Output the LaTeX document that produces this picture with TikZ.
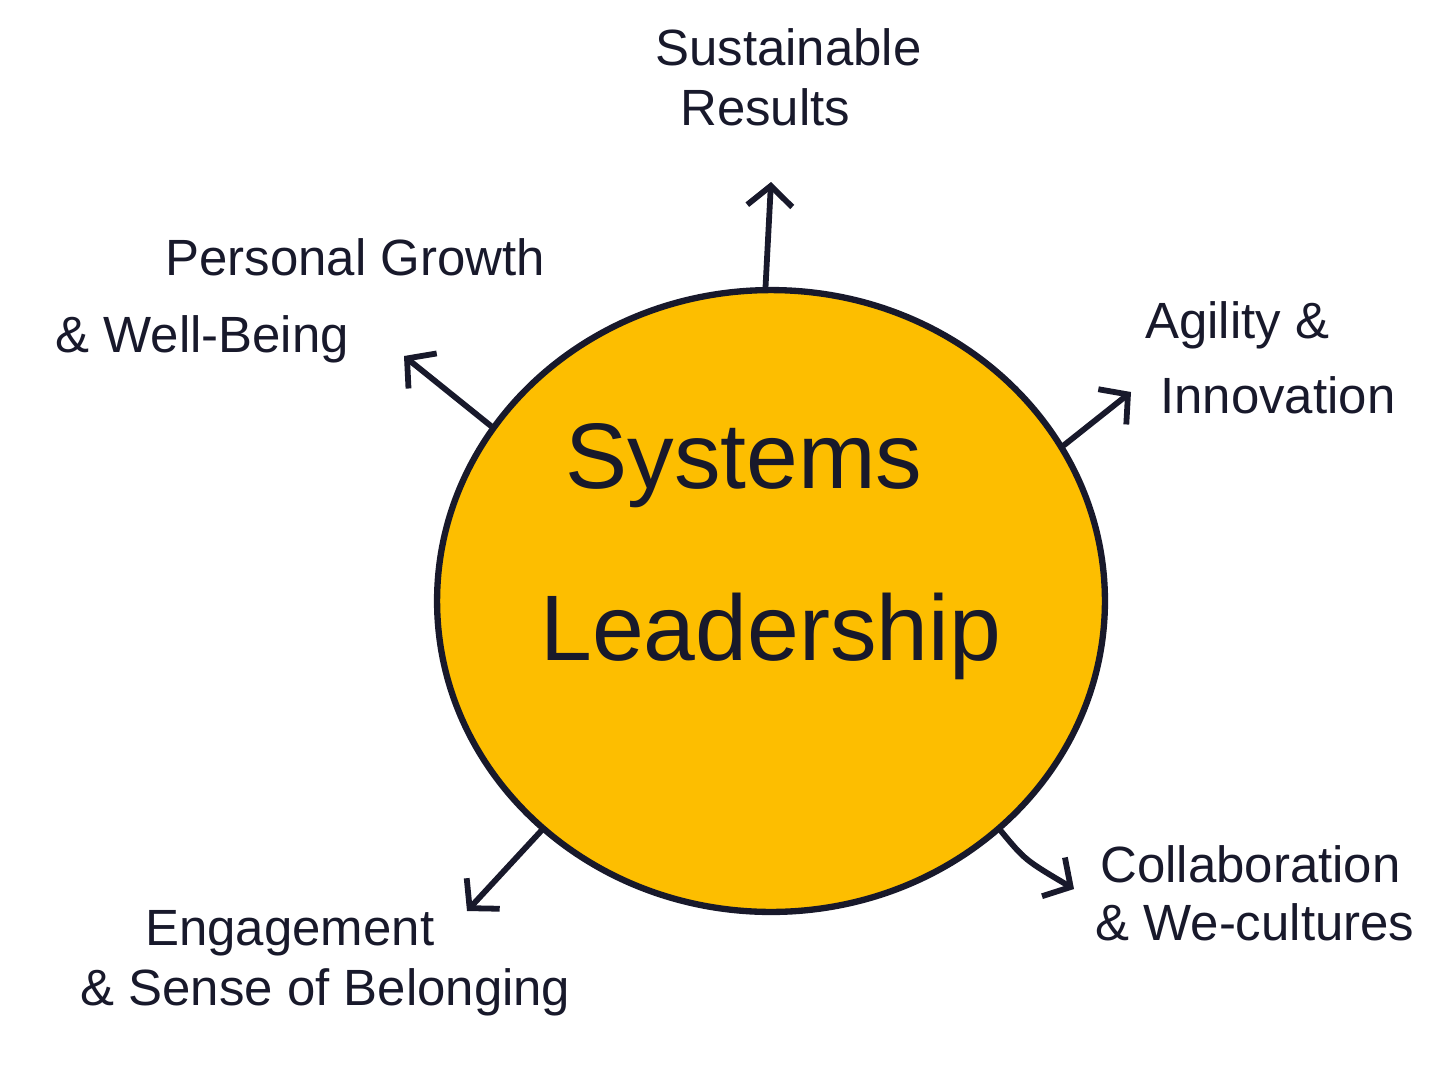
\documentclass[tikz,border=0pt]{standalone}
\usepackage{fontspec}
\setmainfont{Liberation Sans}
\usetikzlibrary{arrows.meta,shapes.geometric}
\definecolor{inkblue}{HTML}{18192B}
\definecolor{sunyellow}{HTML}{FDBE00}
\tikzset{
    tag/.style={text=inkblue, anchor=base west, inner sep=0pt, font=\fontsize{29}{34}\selectfont},
    bigtag/.style={text=inkblue, anchor=base west, inner sep=0pt, font=\fontsize{53}{60}\selectfont},
    pointer/.style={draw=inkblue, line width=3.3pt, line cap=round,
        -{Straight Barb[length=4mm,width=9mm,line width=3.3pt]}}
}
\begin{document}
\begin{tikzpicture}[x=0.02cm,y=-0.02cm]
    \useasboundingbox (0,0) rectangle (1440,1076);
    % the hub
    \node[
        ellipse,
        draw = inkblue,
        fill = sunyellow,
        line width = 3.6pt,
        minimum width = 13.36cm,
        minimum height = 12.44cm,
        inner sep = 0pt
    ] (hub) at (771,601) {};
    \node[bigtag] (systems) at (565,488) {Systems};
    \node[bigtag] (leadership) at (540,660) {Leadership};
    % arrow tips
    \coordinate (resultsTip) at (771,182);
    \coordinate (growthTip) at (404,356);
    \coordinate (agilityTip) at (1131,392);
    \coordinate (collabTip) at (1074,889);
    \coordinate (engageTip) at (467,911);
    \draw[pointer] (hub.91) -- (resultsTip);
    \draw[pointer] (hub.148) -- (growthTip);
    \draw[pointer] (hub.28) -- (agilityTip);
    \draw[pointer] (hub.-45) .. controls (1025,860) .. (collabTip);
    \draw[pointer] (hub.-135) -- (engageTip);
    % labels
    \node[tag] (resultsA) at (655,65) {Sustainable};
    \node[tag] (resultsB) at (680,125) {Results};
    \node[tag] (growthA) at (165,275) {Personal Growth};
    \node[tag] (growthB) at (55,352) {\& Well-Being};
    \node[tag] (agilityA) at (1145,338) {Agility \&};
    \node[tag] (agilityB) at (1160,413) {Innovation};
    \node[tag] (collabA) at (1100,882) {Collaboration};
    \node[tag] (collabB) at (1095,940) {\& We-cultures};
    \node[tag] (engageA) at (145,945) {Engagement};
    \node[tag] (engageB) at (80,1005) {\& Sense of Belonging};
\end{tikzpicture}
\end{document}
